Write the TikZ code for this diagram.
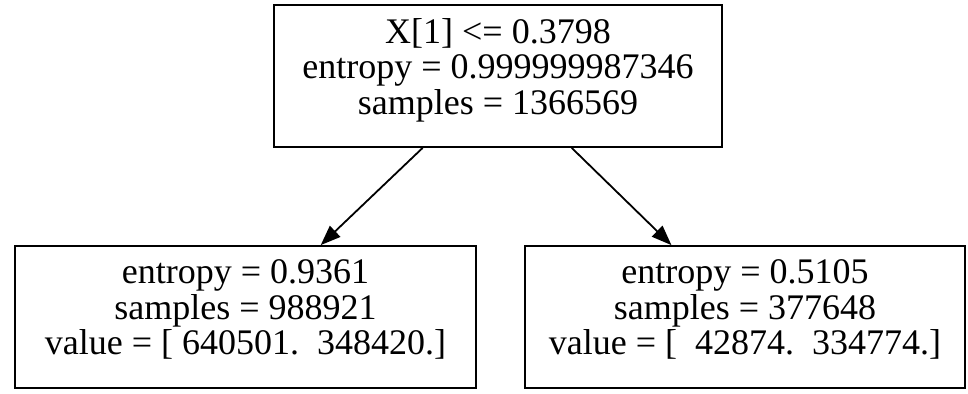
\documentclass[tikz,border=0pt]{standalone}
\usepackage{fontspec}
\setmainfont{Liberation Serif}
\usepackage{tikz}
\usetikzlibrary{positioning}
\usetikzlibrary{arrows.meta}
\tikzset{every picture/.style={line width=0.9pt},treenode/.style={draw, shape=rectangle, align=center, minimum height=71pt, font=\fontsize{18}{17.75}\selectfont}}
\newcommand{\lastpad}{\rule[-9.5pt]{0pt}{9.5pt}}

\begin{document}
\begin{tikzpicture}
\useasboundingbox (0,0) rectangle (484pt,-196.5pt);
\node (root) [treenode, minimum width=224pt] at (249pt,-38pt) {X[1] <= 0.3798\\entropy = 0.999999987346\\samples = 1366569\lastpad};
\node (lt) [treenode, minimum width=230.5pt, below of = root, node distance = 120.5pt, xshift=-126.25pt] {entropy = 0.9361\\samples = 988921\\value = [ 640501.~~348420.]\lastpad};
\node (rt) [treenode, minimum width=220pt, below of = root, node distance = 120.5pt, xshift=123.5pt] {entropy = 0.5105\\samples = 377648\\value = [~~42874.~~334774.]\lastpad};
\draw[-{Triangle[length=10pt,width=7.5pt]}] (root) -- (lt);
\draw[-{Triangle[length=10pt,width=7.5pt]}] (root) -- (rt);
\end{tikzpicture}
\end{document}
